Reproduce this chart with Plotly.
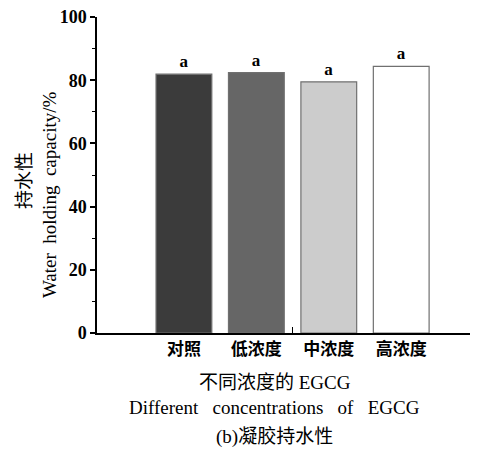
import plotly.graph_objects as go

categories = ["对照", "低浓度", "中浓度", "高浓度"]
values = [81.9, 82.4, 79.5, 84.4]
sig_letters = ["a", "a", "a", "a"]
colors = ["#3b3b3b", "#666666", "#cccccc", "#ffffff"]
y_ticks = [0, 20, 40, 60, 80, 100]

x_pos = list(range(len(categories)))

fig = go.Figure()
fig.add_trace(go.Bar(
    x=x_pos, y=values, width=0.77,
    marker=dict(color=colors, line=dict(color="#707070", width=1.2)),
    text=["<b>%s</b>" % s for s in sig_letters], textposition="outside",
    textfont=dict(family="Liberation Serif", size=17, color="black"),
    cliponaxis=False,
))

# page has an 8px body margin, so the figure is sized/offset to compensate
fig.update_layout(
    width=470, height=442,
    margin=dict(l=89, r=0, t=9, b=117, autoexpand=False),
    paper_bgcolor="white", plot_bgcolor="white",
    showlegend=False,
    font=dict(family="Liberation Serif, Noto Sans CJK SC", color="black"),
    xaxis=dict(
        range=[-1.2, 4.06], tickvals=x_pos, ticktext=["<b>%s</b>" % c for c in categories],
        showline=True, linecolor="black", linewidth=1.5, ticks="", mirror=False,
        minor=dict(tickmode="array", tickvals=[1.5], ticks="inside", ticklen=6,
                   tickwidth=1.2, tickcolor="black"),
        tickfont=dict(family="Noto Sans CJK SC", size=17, color="black"),
        showgrid=False, zeroline=False, automargin=False,
    ),
    yaxis=dict(
        range=[0, 100], tickvals=y_ticks, ticktext=["<b>%d</b>" % v for v in y_ticks],
        showline=True, linecolor="black", linewidth=1.5,
        ticks="outside", ticklen=5, tickwidth=1.5, tickcolor="black",
        minor=dict(ticks="outside", ticklen=3, tickwidth=1, tickcolor="black", dtick=10),
        tickfont=dict(family="Liberation Serif", size=18, color="black"),
        ticklabeloverflow="allow",
        showgrid=False, zeroline=False, automargin=False,
    ),
)

ann_font = dict(family="Liberation Serif, Noto Sans CJK SC", size=19, color="black")
fig.add_annotation(text="持水性", xref="paper", yref="paper", x=-0.197, y=0.484,
                   showarrow=False, textangle=-90, xanchor="center", yanchor="middle",
                   font=dict(family="Noto Sans CJK SC", size=19, color="black"))
fig.add_annotation(text="Water  holding  capacity/%", xref="paper", yref="paper", x=-0.123, y=0.437,
                   showarrow=False, textangle=-90, xanchor="center", yanchor="middle", font=ann_font)
fig.add_annotation(text="不同浓度的 EGCG", xref="paper", yref="paper", x=0.467, y=-0.158,
                   showarrow=False, yanchor="middle", font=ann_font)
fig.add_annotation(text="Different   concentrations   of   EGCG", xref="paper", yref="paper", x=0.467, y=-0.237,
                   showarrow=False, yanchor="middle", font=ann_font)
fig.add_annotation(text="(b)凝胶持水性", xref="paper", yref="paper", x=0.467, y=-0.329,
                   showarrow=False, yanchor="middle", font=ann_font)

fig.write_html("out.html")
